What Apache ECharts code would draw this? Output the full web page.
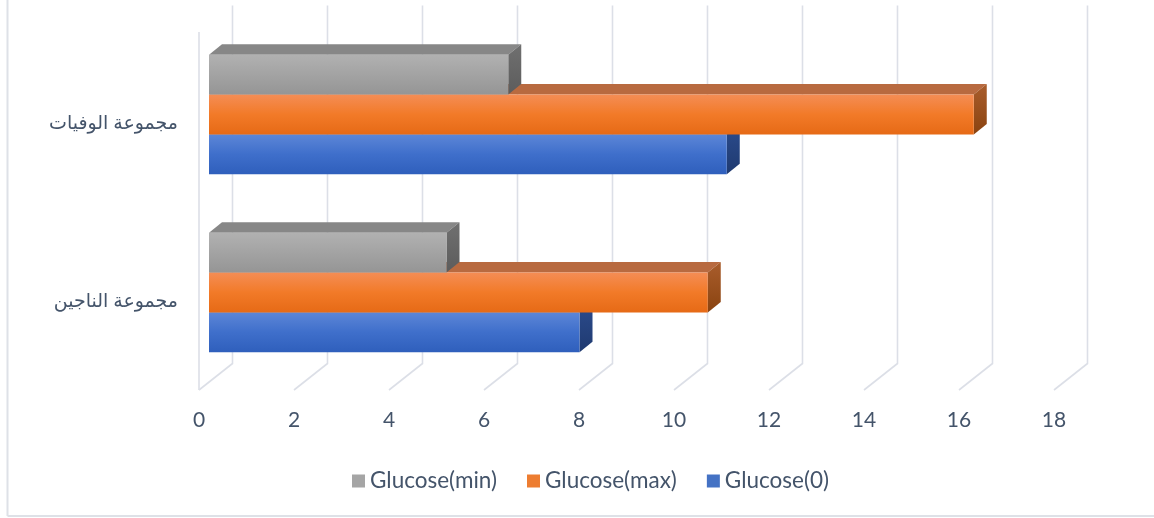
<!DOCTYPE html>
<html>
<head>
<meta charset="utf-8">
<script src="https://cdn.jsdelivr.net/npm/echarts@6/dist/echarts.min.js"></script>
<style>
html,body{margin:0;padding:0;background:#fff;}
#chart{width:1154px;height:518px;}
</style>
</head>
<body>
<div id="chart"></div>
<script>
const categories = ['مجموعة الناجين', 'مجموعة الوفيات'];
const seriesNames = ['Glucose(0)', 'Glucose(max)', 'Glucose(min)'];
const glucose0 = [7.8, 10.9];
const glucoseMax = [10.5, 16.1];
const glucoseMin = [5.0, 6.3];
const xTicks = [0, 2, 4, 6, 8, 10, 12, 14, 16, 18];

const FONT = 'Lato, "DejaVu Sans", sans-serif';
const TXT = '#44546A';
const GRID_COLOR = '#DCDFE7';

// projection offsets (style)
const FX = 10, FY = -8.5;     // bar front plane relative to floor front
const DX = 13, DY = -10.5;    // bar depth
const WX = 33.5, WY = -26.5;  // back wall

const palettes = {
  'Glucose(0)':   { top: '#3E63AE', side: ['#2C4C8E', '#1F3A70'], front: ['#5C86D7', '#3F6FCB', '#2F5FBC'], legend: '#4472C4' },
  'Glucose(max)': { top: '#B86A40', side: ['#A95D2C', '#8A4310'], front: ['#F48D55', '#F27A28', '#E66A16'], legend: '#ED7D31' },
  'Glucose(min)': { top: '#878787', side: ['#707070', '#5C5C5C'], front: ['#B1B1B1', '#A3A3A3', '#959595'], legend: '#A5A5A5' }
};

function grad(c) {
  return new echarts.graphic.LinearGradient(0, 0, 0, 1, [
    { offset: 0, color: c[0] }, { offset: 0.5, color: c[1] }, { offset: 1, color: c[2] }
  ]);
}
function grad2(c) {
  return new echarts.graphic.LinearGradient(0, 0, 0, 1, [
    { offset: 0, color: c[0] }, { offset: 1, color: c[1] }
  ]);
}

function barRenderer(slot, pal) {
  return function (params, api) {
    const val = api.value(0), cat = api.value(1);
    const p0 = api.coord([0, cat]);
    const p1 = api.coord([val, cat]);
    const band = api.size([0, 1])[1];
    const h = band * 0.67 / 3;
    const top = p0[1] - 1.5 * h + slot * h + FY;
    const x0 = p0[0] + FX, x1 = p1[0] + FX;
    return {
      type: 'group',
      children: [
        { type: 'polygon', shape: { points: [[x0, top], [x0 + DX, top + DY], [x1 + DX, top + DY], [x1, top]] },
          style: { fill: pal.top } },
        { type: 'polygon', shape: { points: [[x1, top], [x1 + DX, top + DY], [x1 + DX, top + h + DY], [x1, top + h]] },
          style: { fill: grad2(pal.side) } },
        { type: 'rect', shape: { x: x0, y: top, width: x1 - x0, height: h },
          style: { fill: grad(pal.front) } }
      ]
    };
  };
}

function gridRenderer(params, api) {
  const cs = params.coordSys;
  const v = api.value(0);
  const x = api.coord([v, 0])[0];
  const bottom = cs.y + cs.height;
  const children = [{
    type: 'polyline',
    shape: { points: [[x, bottom], [x + WX, bottom + WY], [x + WX, cs.y + WY - 2]] },
    style: { stroke: GRID_COLOR, lineWidth: 1.6, fill: null }
  }];
  if (v === 0) {
    children.push({
      type: 'line',
      shape: { x1: x, y1: bottom, x2: x, y2: cs.y - 2 },
      style: { stroke: GRID_COLOR, lineWidth: 1.6 }
    });
  }
  return { type: 'group', children: children };
}

const seriesValues = [glucose0, glucoseMax, glucoseMin];
const barSeries = seriesNames.map((name, k) => ({
  name: name,
  type: 'custom',
  clip: false,
  z: 3,
  renderItem: barRenderer(2 - k, palettes[name]),
  encode: { x: 0, y: 1 },
  itemStyle: { color: palettes[name].legend },
  data: seriesValues[k].map((v, i) => [v, i])
}));

const chart = echarts.init(document.getElementById('chart'), null, { renderer: 'canvas' });
chart.setOption({
  animation: false,
  backgroundColor: '#fff',
  graphic: [
    { type: 'line', shape: { x1: 7.5, y1: 0, x2: 7.5, y2: 516 }, style: { stroke: '#DEE1E7', lineWidth: 2 } },
    { type: 'line', shape: { x1: 7.5, y1: 516, x2: 1154, y2: 516 }, style: { stroke: '#DEE1E7', lineWidth: 2 } }
  ],
  grid: { left: 199, right: 100, top: 34, bottom: 128, containLabel: false },
  xAxis: {
    type: 'value', min: 0, max: 18, interval: 2,
    axisLine: { show: false }, axisTick: { show: false }, splitLine: { show: false },
    axisLabel: { color: TXT, fontFamily: FONT, fontSize: 21, margin: 20 }
  },
  yAxis: {
    type: 'category', data: categories,
    axisLine: { show: false }, axisTick: { show: false }, splitLine: { show: false },
    axisLabel: { color: TXT, fontFamily: FONT, fontSize: 19, margin: 21 }
  },
  legend: {
    data: ['Glucose(min)', 'Glucose(max)', 'Glucose(0)'],
    left: 347, top: 464,
    itemWidth: 13, itemHeight: 13, itemGap: 30,
    icon: 'rect',
    textStyle: { color: TXT, fontFamily: FONT, fontSize: 22.5, lineHeight: 24 }
  },
  series: [
    {
      type: 'custom', clip: false, z: 1, silent: true,
      renderItem: gridRenderer,
      encode: { x: 0, y: 1 },
      data: xTicks.map(v => [v, 0])
    }
  ].concat(barSeries)
});
</script>
</body>
</html>
